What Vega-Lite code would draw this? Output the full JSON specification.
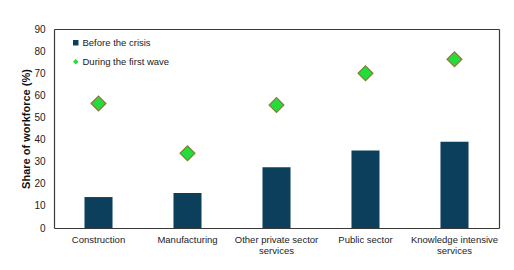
{
  "$schema": "https://vega.github.io/schema/vega-lite/v6.json",
  "width": 445,
  "height": 199,
  "autosize": {"type": "none"},
  "padding": {"left": 54, "top": 29, "right": 15, "bottom": 42},
  "background": "white",
  "config": {
    "font": "Liberation Sans",
    "view": {"stroke": null}
  },
  "resolve": {"axis": {"x": "independent", "y": "independent"}},
  "data": {
    "values": [
      {"sector": "Construction", "series": "Before the crisis", "value": 14},
      {"sector": "Manufacturing", "series": "Before the crisis", "value": 15.8},
      {"sector": "Other private sector services", "series": "Before the crisis", "value": 27.5},
      {"sector": "Public sector", "series": "Before the crisis", "value": 35},
      {"sector": "Knowledge intensive services", "series": "Before the crisis", "value": 39},
      {"sector": "Construction", "series": "During the first wave", "value": 56.3},
      {"sector": "Manufacturing", "series": "During the first wave", "value": 33.8},
      {"sector": "Other private sector services", "series": "During the first wave", "value": 55.6},
      {"sector": "Public sector", "series": "During the first wave", "value": 70},
      {"sector": "Knowledge intensive services", "series": "During the first wave", "value": 76.3}
    ]
  },
  "layer": [
    {
      "transform": [{"filter": "datum.series == 'Before the crisis'"}],
      "mark": {"type": "bar", "color": "#0b3f5b"},
      "encoding": {
        "x": {
          "field": "sector",
          "type": "nominal",
          "sort": null,
          "scale": {"paddingInner": 0.685, "paddingOuter": 0.3425},
          "axis": {
            "title": null,
            "labelAngle": 0,
            "ticks": false,
            "domain": true,
            "domainColor": "#3a3a3a",
            "domainWidth": 1.2,
            "labelPadding": 6,
            "labelFontSize": 9.5,
            "labelColor": "#222",
            "labelLineHeight": 11,
            "labelExpr": "datum.label == 'Other private sector services' ? ['Other private sector', 'services'] : datum.label == 'Knowledge intensive services' ? ['Knowledge intensive', 'services'] : datum.label"
          }
        },
        "y": {
          "field": "value",
          "type": "quantitative",
          "scale": {"domain": [0, 90], "nice": false},
          "axis": {
            "title": "Share of workforce (%)",
            "titleFontWeight": "bold",
            "titleFontSize": 11,
            "titleColor": "#111",
            "titlePadding": 2,
            "values": [0, 10, 20, 30, 40, 50, 60, 70, 80, 90],
            "ticks": false,
            "domain": true,
            "domainColor": "#3a3a3a",
            "domainWidth": 1.2,
            "grid": false,
            "labelPadding": 9,
            "labelFontSize": 10,
            "labelColor": "#222"
          }
        }
      }
    },
    {
      "transform": [{"filter": "datum.series == 'During the first wave'"}],
      "mark": {"type": "point", "filled": true, "size": 220, "stroke": "#8a7a3c", "strokeWidth": 1.2, "opacity": 1},
      "encoding": {
        "x": {
          "field": "sector",
          "type": "nominal",
          "sort": null,
          "axis": {"orient": "top", "title": null, "labels": false, "ticks": false, "domain": true, "domainColor": "#3a3a3a", "domainWidth": 1.2}
        },
        "y": {
          "field": "value",
          "type": "quantitative",
          "axis": {"orient": "right", "title": null, "labels": false, "ticks": false, "grid": false, "domain": true, "domainColor": "#3a3a3a", "domainWidth": 1.2}
        },
        "color": {
          "field": "series",
          "type": "nominal",
          "scale": {"domain": ["Before the crisis", "During the first wave"], "range": ["#0b3f5b", "#22dd3a"]},
          "legend": {
            "title": null,
            "orient": "none",
            "legendX": 17,
            "legendY": 9,
            "labelFontSize": 9.5,
            "labelColor": "#222",
            "rowPadding": 8,
            "symbolSize": 30,
            "symbolStrokeWidth": 0,
            "symbolOffset": 0,
            "labelOffset": 2
          }
        },
        "shape": {
          "field": "series",
          "type": "nominal",
          "scale": {"domain": ["Before the crisis", "During the first wave"], "range": ["square", "diamond"]}
        }
      }
    }
  ]
}
